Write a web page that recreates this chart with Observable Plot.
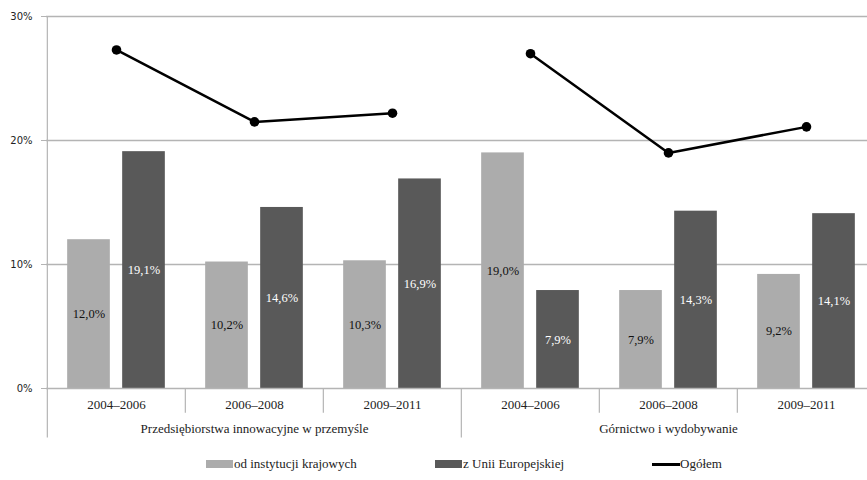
<!DOCTYPE html>
<html>
<head>
<meta charset="utf-8">
<script src="https://cdn.jsdelivr.net/npm/d3@7"></script>
<script src="https://cdn.jsdelivr.net/npm/@observablehq/plot@0.6"></script>
<style>
  html, body { margin: 0; padding: 0; background: #fff; }
  #chart { width: 867px; }
  #chart svg text { font-family: "Liberation Serif", serif; }
  #chart svg .yticks text { font-family: "DejaVu Sans", sans-serif; }
  .legend { position: relative; width: 867px; height: 32px; font-family: "Liberation Serif", serif; font-size: 13px; color: #222; }
  .legend .item { position: absolute; top: 0; height: 32px; display: flex; align-items: center; }
  .legend .sw { width: 27px; height: 8px; margin-right: 1px; }
  .legend .ln { width: 28px; height: 3px; background: #000; }
</style>
</head>
<body>
<div id="chart"></div>
<script>
// Sectors and survey periods
const panels = ["Przedsiębiorstwa innowacyjne w przemyśle", "Górnictwo i wydobywanie"];
const periods = ["2004–2006", "2006–2008", "2009–2011"];

// Share of enterprises receiving public support (%)
const domestic = [12.0, 10.2, 10.3, 19.0, 7.9, 9.2];   // od instytucji krajowych
const eu       = [19.1, 14.6, 16.9, 7.9, 14.3, 14.1];  // z Unii Europejskiej
const total    = [27.3, 21.5, 22.2, 27.0, 19.0, 21.1]; // Ogółem

const yTicks = [0, 10, 20, 30];

const legendLabels = ["od instytucji krajowych", "z Unii Europejskiej", "Ogółem"];

// One row per sector × period
const rows = panels.flatMap((panel, pi) =>
  periods.map((period, ti) => {
    const i = pi * periods.length + ti;
    return { key: `${pi}|${period}`, panel, period, first: ti === 0,
             domestic: domestic[i], eu: eu[i], total: total[i] };
  })
);
const keys = rows.map(d => d.key);
const byKey = new Map(rows.map(d => [d.key, d]));

const LIGHT = "#acacac", DARK = "#595959", GRID = "#b4b4b4";
const SERIF = "Liberation Serif, serif";
const xRange = [46, 876];
const step = (xRange[1] - xRange[0]) / keys.length;
const barW = 43, gap = 12;
const pad = (step - 2 * barW - gap) / 2;

const fmt = v => v.toFixed(1).replace(".", ",") + "%";

const chart = Plot.plot({
  width: 867,
  height: 448,
  marginLeft: 46,
  marginRight: 0,
  marginTop: 16,
  marginBottom: 60,
  x: { domain: keys, range: xRange, padding: 0 },
  y: { domain: [0, 30] },
  style: { fontFamily: SERIF, background: "white", color: "#222" },
  marks: [
    Plot.ruleY(yTicks.filter(d => d > 0), { stroke: GRID, strokeWidth: 1.5 }),
    Plot.barY(rows, { x: "key", y: "domestic", fill: LIGHT,
                      insetLeft: pad, insetRight: step - pad - barW }),
    Plot.barY(rows, { x: "key", y: "eu", fill: DARK,
                      insetLeft: pad + barW + gap, insetRight: pad }),
    Plot.ruleY([0], { stroke: GRID, strokeWidth: 1.5 }),
    // left axis line and category separators below the baseline
    Plot.ruleX([keys[0]], { x: d => d, dx: -step / 2, y1: 30, y2: 0, stroke: GRID, strokeWidth: 1.2 }),
    Plot.ruleX(rows, { x: "key", dx: -step / 2, y1: 0, y2: d => d.first ? -4 : -2,
                       stroke: GRID, strokeWidth: 1.2 }),
    Plot.text(rows, { x: "key", y: d => d.domestic / 2, text: d => fmt(d.domestic),
                      dx: pad + barW / 2 - step / 2, fill: "#111", fontSize: 12.5, fontFamily: SERIF }),
    Plot.text(rows, { x: "key", y: d => d.eu / 2, text: d => fmt(d.eu),
                      dx: pad + barW + gap + barW / 2 - step / 2, fill: "#fff", fontSize: 12.5, fontFamily: SERIF }),
    Plot.line(rows, { x: "key", y: "total", z: "panel", stroke: "#000", strokeWidth: 2.5 }),
    Plot.dot(rows, { x: "key", y: "total", fill: "#000", r: 4.8 }),
    Plot.axisY(yTicks, { tickFormat: d => d + "%", tickSize: 5, tickPadding: 9, className: "yticks",
                         stroke: GRID, fontFamily: "DejaVu Sans, sans-serif", fontSize: 10, label: null }),
    Plot.axisX(keys, { tickSize: 0, tickPadding: 11, fontSize: 13, fontFamily: SERIF,
                       tickFormat: k => byKey.get(k).period, label: null }),
    Plot.axisX([keys[1], keys[4]], { tickSize: 0, tickPadding: 35, fontSize: 13, fontFamily: SERIF,
                                     tickFormat: k => byKey.get(k).panel, label: null })
  ]
});
document.getElementById("chart").append(chart);

// Legend below the plot
const legend = document.createElement("div");
legend.className = "legend";
const items = [
  { left: 206, swatch: `<span class="sw" style="background:${LIGHT}"></span>`, text: legendLabels[0] },
  { left: 435, swatch: `<span class="sw" style="background:${DARK}"></span>`, text: legendLabels[1] },
  { left: 652, swatch: `<span class="ln"></span>`, text: legendLabels[2] }
];
legend.innerHTML = items.map(it =>
  `<div class="item" style="left:${it.left}px">${it.swatch}<span>${it.text}</span></div>`).join("");
document.body.append(legend);
</script>
</body>
</html>
